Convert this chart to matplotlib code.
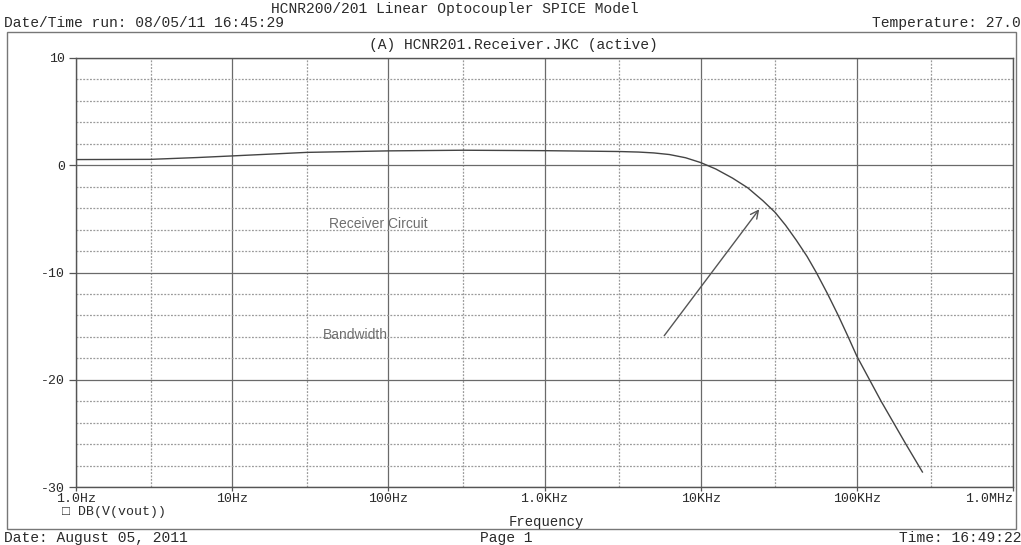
import matplotlib
matplotlib.use('Agg')
import matplotlib.pyplot as plt
from matplotlib.patches import Rectangle

# trace: frequency (Hz) vs DB(V(vout))
freq_hz = [1, 3, 6, 10, 30, 100, 300, 1000, 3000, 4000, 5000, 6300, 8000, 10000, 12500,
           16000, 20000, 25000, 30000, 35000, 41000, 48000, 55000, 65000, 76000, 88000,
           100000, 143000, 206000, 263000]
gain_db = [0.53, 0.55, 0.72, 0.87, 1.2, 1.34, 1.4, 1.36, 1.28, 1.23, 1.15, 1.0, 0.7, 0.25, -0.35,
           -1.2, -2.1, -3.3, -4.4, -5.6, -7.0, -8.5, -10.0, -12.0, -14.0, -16.0,
           -17.8, -22.0, -26.0, -28.6]

x_ticks = [1, 10, 100, 1e3, 1e4, 1e5, 1e6]
x_labels = ['1.0Hz', '10Hz', '100Hz', '1.0KHz', '10KHz', '100KHz', '1.0MHz']
x_minor = [3, 30, 300, 3e3, 3e4, 3e5]
y_ticks = [-30, -20, -10, 0, 10]
y_labels = ['-30', '-20', '-10', '0', '10']
y_minor = [-28, -26, -24, -22, -18, -16, -14, -12, -8, -6, -4, -2, 2, 4, 6, 8]

# hand-drawn notes on the printout
arrow_tail = (5700, -16.1)
arrow_head = (24300, -3.9)
notes = [('Receiver Circuit', 42, -5.5), ('Bandwidth', 38, -15.8)]

MONO = ['Liberation Mono', 'DejaVu Sans Mono']
INK = '#2a2a2a'

fig = plt.figure(figsize=(10.21, 5.45), dpi=100)
W, H = 1021.0, 545.0

def fx(px):
    return px / W

def fy(py):
    return 1 - py / H

ax = fig.add_axes([fx(76), fy(487), fx(1013 - 76), (487 - 58) / H])
ax.set_xscale('log')
ax.set_xlim(1, 1e6)
ax.set_ylim(-30, 10)

ax.set_xticks(x_ticks)
ax.set_xticklabels(x_labels)
ax.set_xticks(x_minor, minor=True)
ax.set_yticks(y_ticks)
ax.set_yticklabels(y_labels)
ax.set_yticks(y_minor, minor=True)

ax.grid(which='major', color='#6a6a6a', lw=0.9)
ax.grid(which='minor', color='#9a9a9a', lw=0.9, ls=(0, (1.5, 1.2)))
ax.set_axisbelow(True)

for lbl in ax.get_xticklabels() + ax.get_yticklabels():
    lbl.set_family(MONO)
    lbl.set_fontsize(9.5)
    lbl.set_color(INK)
ax.get_xticklabels()[-1].set_horizontalalignment('right')
ax.get_xticklabels()[-1].set_x(1.7e6)
ax.tick_params(which='major', direction='out', length=5, width=0.9, color='#555555', pad=3)
ax.tick_params(axis='x', which='major', length=3, pad=1)
ax.tick_params(which='minor', length=0)
for s in ax.spines.values():
    s.set_color('#555555')
    s.set_linewidth(1.0)

ax.plot(freq_hz, gain_db, color='#444444', lw=1.0)

ax.annotate('', xy=arrow_head, xytext=arrow_tail,
            arrowprops=dict(arrowstyle='->', color='#555555', lw=1.0, mutation_scale=14))
for txt, nx, ny in notes:
    ax.text(nx, ny, txt, family='Liberation Sans', fontsize=10, color='#6e6e6e', va='center')

# page frame and header/footer text
fig.patches.append(Rectangle((fx(7), fy(529)), fx(1016 - 7), (529 - 32) / H,
                             transform=fig.transFigure, fill=False, ec='#777777', lw=1.0))

fig.text(fx(455), fy(9), 'HCNR200/201 Linear Optocoupler SPICE Model', family=MONO,
         fontsize=10.5, color=INK, ha='center', va='center')
fig.text(fx(4), fy(23), 'Date/Time run: 08/05/11 16:45:29', family=MONO,
         fontsize=10.5, color=INK, ha='left', va='center')
fig.text(fx(1021), fy(23), 'Temperature: 27.0', family=MONO,
         fontsize=10.5, color=INK, ha='right', va='center')
fig.text(fx(513), fy(45), '(A) HCNR201.Receiver.JKC (active)', family=MONO,
         fontsize=10.5, color=INK, ha='center', va='center')

fig.text(fx(62), fy(512), '\u25a1 DB(V(vout))', family=MONO,
         fontsize=9.5, color=INK, ha='left', va='center')
fig.text(fx(546), fy(522), 'Frequency', family=MONO,
         fontsize=10, color=INK, ha='center', va='center')
fig.text(fx(4), fy(538), 'Date: August 05, 2011', family=MONO,
         fontsize=10.5, color=INK, ha='left', va='center')
fig.text(fx(480), fy(538), 'Page 1', family=MONO,
         fontsize=10.5, color=INK, ha='left', va='center')
fig.text(fx(1021), fy(538), 'Time: 16:49:22', family=MONO,
         fontsize=10.5, color=INK, ha='right', va='center')

fig.savefig('out.png', dpi=100)
